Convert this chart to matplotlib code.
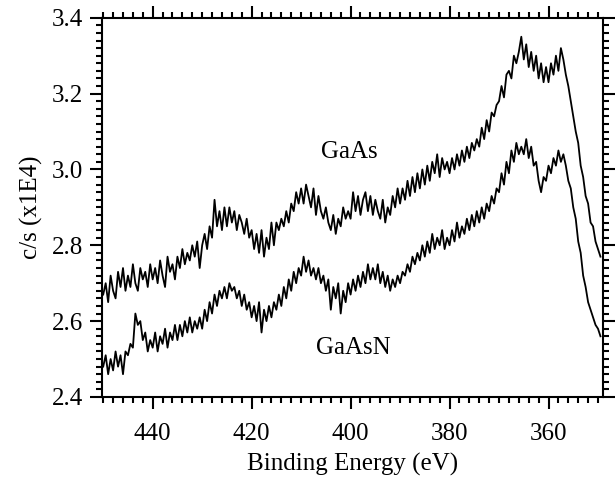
import numpy as np
import matplotlib
matplotlib.use('Agg')
import matplotlib.pyplot as plt
from matplotlib.ticker import MultipleLocator, FormatStrFormatter

plt.rcParams['font.family'] = ['Liberation Serif', 'DejaVu Serif']
plt.rcParams['font.size'] = 18

# binding energy grid, 0.5 eV steps from 450 eV down to 349.5 eV
energy = np.arange(450.0, 349.4, -0.5)

gaas = [
    2.67, 2.70, 2.65, 2.72, 2.68, 2.66, 2.73, 2.69, 2.74, 2.68,
    2.72, 2.69, 2.75, 2.70, 2.68, 2.74, 2.71, 2.73, 2.69, 2.75,
    2.71, 2.74, 2.70, 2.76, 2.72, 2.69, 2.77, 2.73, 2.75, 2.71,
    2.77, 2.74, 2.79, 2.75, 2.78, 2.76, 2.80, 2.77, 2.81, 2.74,
    2.80, 2.83, 2.79, 2.85, 2.82, 2.92, 2.85, 2.89, 2.84, 2.90,
    2.85, 2.90, 2.86, 2.89, 2.84, 2.88, 2.86, 2.83, 2.87, 2.82,
    2.84, 2.79, 2.83, 2.78, 2.84, 2.77, 2.82, 2.79, 2.86, 2.80,
    2.86, 2.84, 2.87, 2.85, 2.89, 2.86, 2.91, 2.89, 2.94, 2.91,
    2.95, 2.91, 2.96, 2.93, 2.90, 2.95, 2.88, 2.93, 2.89, 2.87,
    2.90, 2.86, 2.84, 2.88, 2.83, 2.87, 2.85, 2.90, 2.87, 2.89,
    2.87, 2.94, 2.89, 2.93, 2.88, 2.92, 2.94, 2.89, 2.93, 2.88,
    2.92, 2.89, 2.87, 2.92, 2.86, 2.90, 2.88, 2.93, 2.90, 2.95,
    2.91, 2.95, 2.92, 2.97, 2.93, 2.98, 2.94, 2.99, 2.95, 3.00,
    2.96, 3.01, 2.97, 3.02, 2.99, 3.04, 2.98, 3.03, 3.00, 3.02,
    2.99, 3.03, 3.00, 3.04, 3.01, 3.05, 3.02, 3.06, 3.03, 3.07,
    3.05, 3.08, 3.06, 3.11, 3.08, 3.13, 3.10, 3.15, 3.14, 3.17,
    3.18, 3.22, 3.19, 3.25, 3.26, 3.24, 3.30, 3.28, 3.31, 3.35,
    3.29, 3.33, 3.27, 3.31, 3.26, 3.30, 3.24, 3.28, 3.23, 3.27,
    3.23, 3.28, 3.25, 3.30, 3.26, 3.32, 3.29, 3.25, 3.22, 3.18,
    3.14, 3.10, 3.07, 3.01, 2.98, 2.93, 2.91, 2.86, 2.85, 2.81,
    2.79, 2.77,
]

gaasn = [
    2.48, 2.51, 2.46, 2.50, 2.47, 2.52, 2.48, 2.51, 2.46, 2.52,
    2.51, 2.54, 2.53, 2.62, 2.59, 2.60, 2.55, 2.57, 2.52, 2.55,
    2.53, 2.57, 2.52, 2.56, 2.54, 2.58, 2.53, 2.57, 2.55, 2.59,
    2.55, 2.59, 2.56, 2.60, 2.57, 2.61, 2.57, 2.60, 2.58, 2.61,
    2.58, 2.63, 2.60, 2.65, 2.62, 2.67, 2.64, 2.68, 2.66, 2.69,
    2.66, 2.70, 2.68, 2.69, 2.66, 2.68, 2.64, 2.67, 2.63, 2.65,
    2.61, 2.64, 2.60, 2.65, 2.57, 2.63, 2.60, 2.64, 2.61, 2.65,
    2.63, 2.67, 2.64, 2.69, 2.66, 2.71, 2.68, 2.73, 2.70, 2.74,
    2.72, 2.77, 2.73, 2.76, 2.72, 2.74, 2.71, 2.74, 2.70, 2.72,
    2.68, 2.71, 2.63, 2.69, 2.66, 2.70, 2.62, 2.68, 2.65, 2.70,
    2.67, 2.71, 2.68, 2.72, 2.69, 2.73, 2.70, 2.75, 2.71, 2.74,
    2.71, 2.75, 2.70, 2.73, 2.69, 2.72, 2.68, 2.71, 2.69, 2.72,
    2.70, 2.73, 2.72, 2.75, 2.73, 2.77, 2.75, 2.78, 2.76, 2.80,
    2.77, 2.81, 2.78, 2.83, 2.79, 2.82, 2.80, 2.84, 2.79, 2.82,
    2.80, 2.84, 2.81, 2.86, 2.82, 2.85, 2.83, 2.87, 2.84, 2.88,
    2.85, 2.89, 2.86, 2.90, 2.87, 2.91, 2.89, 2.93, 2.91, 2.95,
    2.94, 2.99, 2.96, 3.02, 2.99, 3.05, 3.02, 3.07, 3.04, 3.06,
    3.04, 3.08, 3.03, 3.06, 3.01, 3.02, 2.97, 2.94, 2.98, 2.97,
    3.01, 2.99, 3.03, 3.01, 3.05, 3.02, 3.04, 3.01, 2.97, 2.95,
    2.90, 2.87, 2.81, 2.78, 2.72, 2.69, 2.65, 2.63, 2.61, 2.59,
    2.58, 2.56,
]

fig = plt.figure(figsize=(6.15, 4.8), dpi=100)
ax = fig.add_axes([0.1654, 0.173, 0.815, 0.79])

ax.plot(energy, gaas, color='black', linewidth=1.3)
ax.plot(energy, gaasn, color='black', linewidth=1.3)

ax.text(400.2, 3.047, 'GaAs', ha='center', va='center')
ax.text(399.4, 2.528, 'GaAsN', ha='center', va='center')

ax.set_xlim(450.3, 349)
ax.set_ylim(2.4, 3.4)
ax.xaxis.set_major_locator(MultipleLocator(20))
ax.xaxis.set_minor_locator(MultipleLocator(2))
ax.yaxis.set_major_locator(MultipleLocator(0.2))
ax.yaxis.set_minor_locator(MultipleLocator(0.02))
ax.yaxis.set_major_formatter(FormatStrFormatter('%.1f'))

ax.tick_params(which='both', direction='out', top=True, right=True, width=1.5)
ax.tick_params(which='major', length=8.5)
ax.tick_params(which='minor', length=4)
ax.tick_params(axis='x', which='major', pad=10)
ax.tick_params(axis='y', which='major', pad=5)
for s in ax.spines.values():
    s.set_linewidth(1.5)

ax.set_xlabel('Binding Energy (eV)', labelpad=6)
ax.set_ylabel('c/s (x1E4)', labelpad=6)

fig.savefig('out.png', dpi=100)
